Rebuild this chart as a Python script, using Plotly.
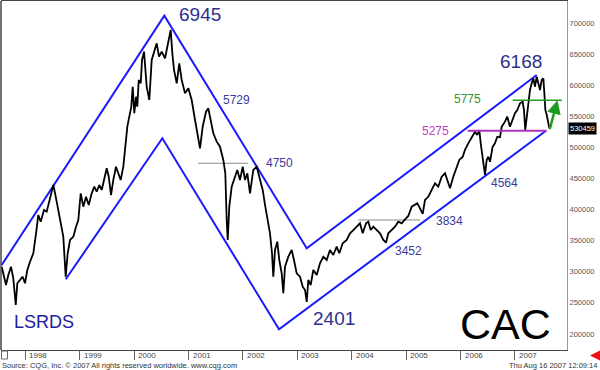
import plotly.graph_objects as go

# ---------------- data ----------------
# time in decimal years, CAC index in chart units (index x 100)
t_years = [
    1997.566, 1997.609, 1997.645, 1997.688, 1997.737, 1997.779, 1997.824, 1997.853, 1997.903, 1997.952,
    1997.994, 1998.037, 1998.086, 1998.147, 1998.197, 1998.239, 1998.283, 1998.344, 1998.393, 1998.441,
    1998.485, 1998.515, 1998.559, 1998.607, 1998.656, 1998.698, 1998.742, 1998.779, 1998.822, 1998.882,
    1998.932, 1998.974, 1999.018, 1999.066, 1999.116, 1999.165, 1999.220, 1999.268, 1999.312, 1999.360,
    1999.404, 1999.452, 1999.496, 1999.533, 1999.575, 1999.617, 1999.667, 1999.709, 1999.753, 1999.801,
    1999.838, 1999.875, 1999.911, 1999.948, 1999.974, 2000.003, 2000.035, 2000.058, 2000.084, 2000.121,
    2000.145, 2000.182, 2000.231, 2000.279, 2000.323, 2000.384, 2000.415, 2000.457, 2000.507, 2000.568,
    2000.628, 2000.672, 2000.702, 2000.733, 2000.783, 2000.830, 2000.874, 2000.935, 2000.996, 2001.058,
    2001.119, 2001.161, 2001.211, 2001.260, 2001.321, 2001.363, 2001.407, 2001.455, 2001.518, 2001.578,
    2001.639, 2001.676, 2001.701, 2001.720, 2001.749, 2001.793, 2001.854, 2001.896, 2001.946, 2001.996,
    2002.038, 2002.080, 2002.130, 2002.190, 2002.253, 2002.301, 2002.363, 2002.411, 2002.455, 2002.497,
    2002.534, 2002.558, 2002.589, 2002.631, 2002.668, 2002.712, 2002.742, 2002.773, 2002.834, 2002.896,
    2002.938, 2002.988, 2003.049, 2003.098, 2003.141, 2003.172, 2003.201, 2003.245, 2003.293, 2003.356,
    2003.416, 2003.477, 2003.539, 2003.600, 2003.661, 2003.723, 2003.771, 2003.833, 2003.907, 2003.968,
    2004.028, 2004.091, 2004.151, 2004.201, 2004.262, 2004.304, 2004.348, 2004.396, 2004.458, 2004.519,
    2004.580, 2004.629, 2004.672, 2004.734, 2004.795, 2004.855, 2004.918, 2004.979, 2005.039, 2005.102,
    2005.162, 2005.205, 2005.254, 2005.304, 2005.346, 2005.407, 2005.469, 2005.530, 2005.590, 2005.653,
    2005.714, 2005.774, 2005.806, 2005.866, 2005.929, 2005.977, 2006.039, 2006.081, 2006.142, 2006.204,
    2006.265, 2006.307, 2006.344, 2006.370, 2006.394, 2006.418, 2006.449, 2006.480, 2006.510, 2006.541,
    2006.590, 2006.632, 2006.675, 2006.724, 2006.756, 2006.816, 2006.859, 2006.908, 2006.958, 2007.000,
    2007.042, 2007.092, 2007.141, 2007.165, 2007.189, 2007.215, 2007.245, 2007.276, 2007.307, 2007.337,
    2007.368, 2007.399, 2007.429, 2007.460, 2007.491, 2007.521, 2007.540, 2007.558, 2007.584, 2007.613,
    2007.632,
]
price = [
    308000, 292000, 278600, 294700, 308000, 289400, 246500, 281400, 286700, 292000,
    281400, 302700, 316100, 329600, 361700, 391200, 380400, 399200, 396500, 415300,
    428600, 439400, 420600, 399200, 377800, 356300, 292000, 329600, 351000, 356300,
    372300, 383100, 426000, 404500, 420600, 407200, 426000, 436700, 428600, 439400,
    431400, 447400, 466200, 452700, 423300, 447400, 468800, 458200, 447400, 468800,
    501000, 533100, 549200, 565300, 597400, 554700, 581300, 565300, 608200, 602900,
    640400, 653700, 597400, 576000, 640400, 656400, 667200, 645700, 653700, 643100,
    667200, 688600, 651100, 624300, 602900, 635000, 608200, 586800, 594900, 576000,
    543900, 522500, 498400, 533100, 557200, 562700, 543900, 522500, 509000, 501000,
    479600, 458200, 383100, 351000, 404500, 436700, 452700, 463500, 447400, 468800,
    447400, 458200, 426000, 463500, 468800, 452700, 431400, 404500, 383100, 361700,
    329600, 292000, 334900, 348200, 318800, 297400, 265300, 308000, 324100, 334900,
    318800, 297400, 292000, 275900, 270600, 251300, 286700, 278600, 302700, 294700,
    313500, 324100, 318800, 334900, 326800, 340200, 329600, 345700, 351000, 361700,
    367000, 372300, 377800, 361700, 377800, 380400, 367000, 372300, 367000, 361700,
    351000, 346600, 361700, 367000, 372300, 380400, 377800, 384200, 389600, 404500,
    407200, 410000, 401900, 392800, 415300, 420600, 431400, 442100, 436700, 452700,
    458200, 442100, 434100, 452700, 468800, 479600, 484900, 495700, 506400, 517000,
    525100, 519800, 527800, 506400, 490400, 468800, 455500, 479600, 484900, 476800,
    501000, 506400, 517000, 516100, 533100, 541200, 549200, 533100, 546600, 554700,
    560000, 570700, 573300, 560000, 527800, 549200, 576000, 592100, 602900, 610900,
    597400, 613500, 602900, 592100, 608200, 610900, 586800, 560000, 551900, 538600,
    530459,
]
last_value = 530459

# hand-drawn channel lines (vertices)
upper_t = [1997.566, 2000.555, 2003.172, 2007.399]
upper_v = [310800, 711600, 337600, 616200]
lower_t = [1998.743, 2000.518, 2002.663, 2007.570]
lower_v = [287800, 514500, 207400, 526700]

# horizontal levels
gray1_t, gray1_v = [2001.180, 2002.098], 474300
gray2_t, gray2_v = [2004.120, 2005.254], 383100
magenta_t, magenta_v = [2006.131, 2007.583], 526700
green_t, green_v = [2006.958, 2007.859], 575600
arrow_from = (2007.632, 526700)
arrow_to = (2007.782, 575600)

# labels (text, t, v)
big_labels = [("6945", 2001.211, 714300), ("6168", 2007.116, 637600), ("2401", 2003.674, 225100)]
small_labels = [("5729", 2001.885, 576800), ("4750", 2002.663, 474300),
                ("3452", 2005.039, 333800), ("3834", 2005.790, 381000), ("4564", 2006.807, 443100)]
green_label = ("5775", 2006.122, 577700)
magenta_label = ("5275", 2005.543, 526700)

year_ticks = list(range(1998, 2008))
year_labels = [str(y) for y in year_ticks]
y_ticks = list(range(200000, 700001, 50000))
y_labels = [str(v) for v in y_ticks]

NAVY = "#2e2e8e"
BLUE = "#1a1aff"
FONT = "Liberation Sans, Arial, sans-serif"

fig = go.Figure()

fig.add_trace(go.Scatter(x=upper_t, y=upper_v, mode="lines",
                         line=dict(color=BLUE, width=2), hoverinfo="skip"))
fig.add_trace(go.Scatter(x=lower_t, y=lower_v, mode="lines",
                         line=dict(color=BLUE, width=2), hoverinfo="skip"))
fig.add_trace(go.Scatter(x=gray1_t, y=[gray1_v, gray1_v], mode="lines",
                         line=dict(color="#8a8a8a", width=1), hoverinfo="skip"))
fig.add_trace(go.Scatter(x=gray2_t, y=[gray2_v, gray2_v], mode="lines",
                         line=dict(color="#8a8a8a", width=1), hoverinfo="skip"))
fig.add_trace(go.Scatter(x=t_years, y=price, mode="lines",
                         line=dict(color="black", width=1.8), hoverinfo="skip"))
fig.add_trace(go.Scatter(x=magenta_t, y=[magenta_v, magenta_v], mode="lines",
                         line=dict(color="#b030c0", width=2), hoverinfo="skip"))
fig.add_trace(go.Scatter(x=green_t, y=[green_v, green_v], mode="lines",
                         line=dict(color="#1f9a1f", width=1.5), hoverinfo="skip"))

ann = []
for txt, t, v in big_labels:
    ann.append(dict(x=t, y=v, text=txt, showarrow=False, xanchor="center", yanchor="middle",
                    font=dict(family=FONT, size=19, color=NAVY)))
for txt, t, v in small_labels:
    ann.append(dict(x=t, y=v, text=txt, showarrow=False, xanchor="center", yanchor="middle",
                    font=dict(family=FONT, size=12, color="#3a3a9a")))
ann.append(dict(x=green_label[1], y=green_label[2], text=green_label[0], showarrow=False,
                xanchor="center", yanchor="middle",
                font=dict(family=FONT, size=12, color="#2f962f")))
ann.append(dict(x=magenta_label[1], y=magenta_label[2], text=magenta_label[0], showarrow=False,
                xanchor="center", yanchor="middle",
                font=dict(family=FONT, size=12, color="#c040c0")))
ann.append(dict(x=arrow_to[0], y=arrow_to[1], ax=arrow_from[0], ay=arrow_from[1],
                axref="x", ayref="y", text="", showarrow=True,
                arrowhead=2, arrowsize=1.1, arrowwidth=2.5, arrowcolor="#1f9a1f"))

def px_x(p):
    return (p - 1) / 566.0

def px_y(p):
    return (350 - p) / 349.0

# year labels to the right of their tick marks
for yr, lab in zip(year_ticks, year_labels):
    ann.append(dict(x=yr + 2.0 / 54.41, xref="x", yref="paper", y=px_y(355.7), text=lab,
                    xanchor="left", yanchor="middle", showarrow=False,
                    font=dict(family=FONT, size=8, color="#444")))

ann.append(dict(xref="paper", yref="paper", x=px_x(12), y=px_y(322), text="LSRDS",
                xanchor="left", yanchor="middle", showarrow=False,
                font=dict(family=FONT, size=18, color="#2020a0")))
ann.append(dict(xref="paper", yref="paper", x=px_x(505), y=px_y(324), text="CAC",
                xanchor="center", yanchor="middle", showarrow=False,
                font=dict(family=FONT, size=43, color="black")))
ann.append(dict(xref="paper", yref="y", x=1, y=last_value, text=str(last_value),
                xanchor="left", yanchor="middle", xshift=1, showarrow=False,
                bgcolor="black", borderpad=1,
                font=dict(family=FONT, size=7.5, color="white")))
ann.append(dict(xref="paper", yref="paper", x=px_x(0), y=px_y(366),
                text="Source: CQG, Inc. \u00a9 2007 All rights reserved worldwide. www.cqg.com",
                xanchor="left", yanchor="middle", showarrow=False,
                font=dict(family=FONT, size=7.5, color="#333333")))
ann.append(dict(xref="paper", yref="paper", x=px_x(599), y=px_y(366),
                text="Thu Aug 16 2007 12:09:14", xanchor="right", yanchor="middle", showarrow=False,
                font=dict(family=FONT, size=7.5, color="#333333")))
ann.append(dict(xref="paper", yref="paper", x=px_x(590), y=px_y(355.5), text="",
                showarrow=True, axref="pixel", ayref="pixel", ax=9, ay=0,
                arrowhead=2, arrowsize=0.7, arrowwidth=3, arrowcolor="#ee1111"))

fig.update_layout(
    width=600, height=370, autosize=False,
    margin=dict(l=1, r=33, t=1, b=20, pad=0),
    paper_bgcolor="white", plot_bgcolor="white",
    showlegend=False,
    annotations=ann,
    font=dict(family=FONT),
    shapes=[dict(type="rect", xref="paper", yref="paper",
                 x0=px_x(1.5), x1=px_x(7.5), y0=px_y(351), y1=px_y(359),
                 line=dict(color="#666", width=1))],
    xaxis=dict(range=[1997.553, 2007.956], showgrid=False, zeroline=False, automargin=False,
               tickvals=year_ticks, ticks="outside", ticklen=9, tickcolor="#666", tickwidth=1,
               showticklabels=False,
               showline=True, linecolor="#444", linewidth=1, mirror=True),
    yaxis=dict(range=[174100, 735200], side="right", showgrid=False, zeroline=False,
               automargin=False,
               tickvals=y_ticks, ticktext=y_labels, ticks="",
               tickfont=dict(family=FONT, size=7.5, color="#555"),
               showline=True, linecolor="#999", linewidth=1, mirror=False),
)
fig.add_shape(type="line", xref="paper", yref="paper", x0=0, x1=0, y0=0, y1=1,
              line=dict(color="#444", width=1.5))

fig.write_html("out.html", config={"displayModeBar": False},
               post_script="document.body.style.margin='0';document.body.style.padding='0';")
